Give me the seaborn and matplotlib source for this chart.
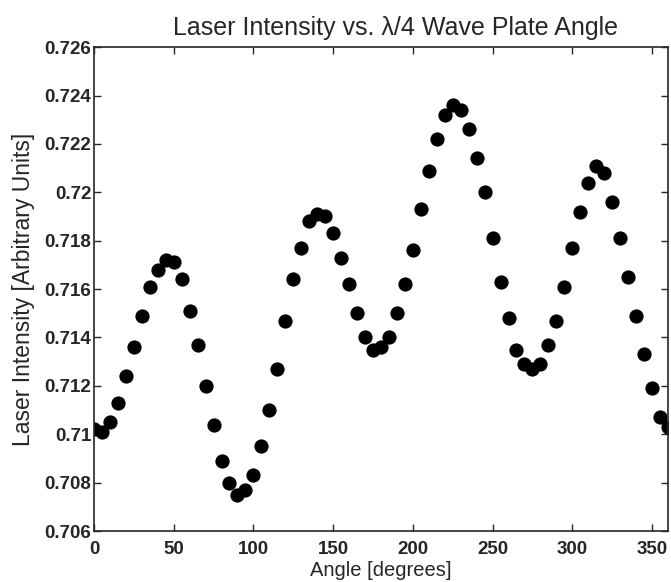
import numpy as np
import pandas as pd
import matplotlib
matplotlib.use('Agg')
import matplotlib.pyplot as plt
import seaborn as sns

# data
angle = list(range(0, 365, 5))
intensity = [0.7102, 0.7101, 0.7105, 0.7113, 0.7124, 0.7136, 0.7149, 0.7161, 0.7168, 0.7172,
             0.7171, 0.7164, 0.7151, 0.7137, 0.7120, 0.7104, 0.7089, 0.7080, 0.7075, 0.7077,
             0.7083, 0.7095, 0.7110, 0.7127, 0.7147, 0.7164, 0.7177, 0.7188, 0.7191, 0.7190,
             0.7183, 0.7173, 0.7162, 0.7150, 0.7140, 0.7135, 0.7136, 0.7140, 0.7150, 0.7162,
             0.7176, 0.7193, 0.7209, 0.7222, 0.7232, 0.7236, 0.7234, 0.7226, 0.7214, 0.7200,
             0.7181, 0.7163, 0.7148, 0.7135, 0.7129, 0.7127, 0.7129, 0.7137, 0.7147, 0.7161,
             0.7177, 0.7192, 0.7204, 0.7211, 0.7208, 0.7196, 0.7181, 0.7165, 0.7149, 0.7133,
             0.7119, 0.7107, 0.7103]

xticks = [0, 50, 100, 150, 200, 250, 300, 350]
yticks = [0.706, 0.708, 0.71, 0.712, 0.714, 0.716, 0.718, 0.72, 0.722, 0.724, 0.726]
ytick_labels = ['0.706', '0.708', '0.71', '0.712', '0.714', '0.716', '0.718', '0.72', '0.722', '0.724', '0.726']

df = pd.DataFrame({'angle': angle, 'intensity': intensity})

sns.set_style('ticks')
plt.rcParams['font.family'] = ['Liberation Sans', 'DejaVu Sans']

fig = plt.figure(figsize=(6.71, 5.82), dpi=100)
ax = fig.add_axes([0.140, 0.0876, 0.8555, 0.8314])

sns.scatterplot(data=df, x='angle', y='intensity', ax=ax, color='black',
                s=105, edgecolor='black', linewidth=0, legend=False)

ax.set_xlim(0, 360)
ax.set_ylim(0.706, 0.726)
ax.set_xticks(xticks)
ax.set_xticklabels([str(t) for t in xticks], fontsize=13.5, fontweight='bold')
ax.set_yticks(yticks)
ax.set_yticklabels(ytick_labels, fontsize=13.5, fontweight='bold')
ax.tick_params(direction='in', top=True, right=True, length=5, width=1)
ax.tick_params(axis='x', pad=7)
ax.tick_params(axis='y', pad=2)
for sp in ax.spines.values():
    sp.set_linewidth(1.2)
    sp.set_visible(True)

ax.set_xlabel('Angle [degrees]', fontsize=14.5, fontweight='medium', labelpad=2)
ax.set_ylabel('Laser Intensity [Arbitrary Units]', fontsize=16.5, fontweight='medium', labelpad=7)
ax.set_title('Laser Intensity vs. \u03bb/4 Wave Plate Angle', fontsize=18, pad=9, x=0.525)

fig.savefig('out.png', dpi=100)
